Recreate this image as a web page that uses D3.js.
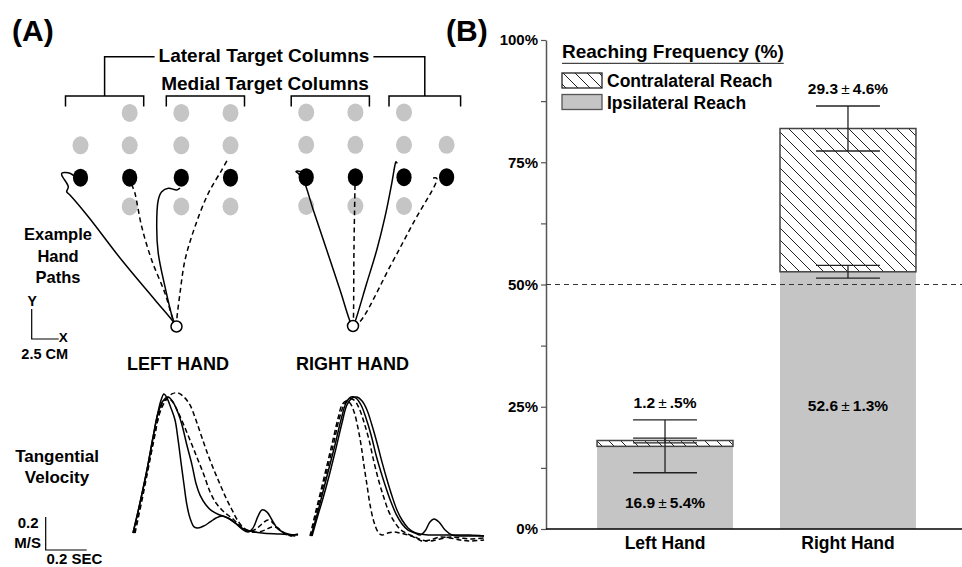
<!DOCTYPE html>
<html><head><meta charset="utf-8">
<script src="https://cdn.jsdelivr.net/npm/d3@7"></script>
<style>
body{margin:0;background:#fff}
svg{display:block}
text{font-family:'Liberation Sans',Arial,Helvetica,sans-serif;font-weight:bold;fill:#000}
</style>
</head><body><svg id="c" width="962" height="567"></svg>
<script>
// ================= Panel B data =================
const hands = ["Left Hand", "Right Hand"];
const ipsiMean = [16.9, 52.6];
const ipsiErr = [5.4, 1.3];
const contraMean = [1.2, 29.3];
const contraErr = [0.5, 4.6];
const ipsiLabels = ["16.9 ± 5.4%", "52.6 ± 1.3%"];
const contraLabels = ["1.2 ± .5%", "29.3 ± 4.6%"];
const yMajorTicks = [0, 25, 50, 75, 100];
const yMinorTicks = [12.5, 37.5, 62.5, 87.5];
const chanceLevel = 50;
const legendTitle = "Reaching Frequency (%)";
const legendItems = ["Contralateral Reach", "Ipsilateral Reach"];

// ================= Panel A data (cm, relative to hand start) =================
const targetColsLeft = [-8.0, -3.9, 0.4, 4.5];
const targetColsRight = [-3.9, 0.2, 4.25, 7.8];
const targetRows = [17.8, 15.1, 12.4, 10.0];
const targetRowActive = [false, false, true, false];
const targetMaskLeft = [[0,1,1,1],[1,1,1,1],[1,1,1,1],[0,1,1,1]];
const targetMaskRight = [[1,1,1,0],[1,1,1,1],[1,1,1,1],[1,1,1,0]];
const bracketGroupsLeft = [{name:"lateral", cols:[0,1]}, {name:"medial", cols:[2,3]}];
const bracketGroupsRight = [{name:"medial", cols:[0,1]}, {name:"lateral", cols:[2,3]}];
const handTitles = ["LEFT HAND", "RIGHT HAND"];
const scaleBarCm = 2.5;

const traceKinds = ["solid", "dashed", "solid", "dashed"];
const handPathsLeft = [
  [[0,0],[-0.27,0.4],[-1.79,2.21],[-4.57,5.54],[-7.35,9.15],[-8.88,10.96],[-9.15,11.23],[-9.02,11.65],[-9.57,12.63],[-9.54,12.79],[-8.88,12.77],[-8.46,12.48]],
  [[0,0],[-0.27,0.54],[-0.96,2.77],[-2.07,5.54],[-2.9,8.32],[-3.46,11.1],[-3.73,11.93],[-3.63,12.29],[-3.29,12.46]],
  [[0,0],[-0.27,0.54],[-0.96,3.32],[-1.52,6.1],[-1.65,8.32],[-1.52,10.54],[-1.23,11.23],[-0.68,11.52],[0.02,11.38],[0.29,11.54]],
  [[0,0],[0.02,0.54],[0.29,2.77],[0.71,5.54],[1.54,8.32],[2.65,11.1],[3.77,13.04],[4.32,14.02]]
];
const handPathsRight = [
  [[0,0],[-0.11,0.08],[-1.08,3.0],[-2.19,6.33],[-3.31,9.67],[-4.14,12.17],[-4.56,12.72],[-4.75,12.88],[-4.28,12.86],[-4.0,12.58]],
  [[0,0],[0.03,0.36],[0.08,6.33],[0.17,11.89]],
  [[0,0],[0.17,0.36],[1.14,3.56],[1.98,6.33],[2.67,9.11],[3.23,11.89],[3.5,13.42],[3.58,13.69],[3.69,13.56]],
  [[0,0],[0.58,0.36],[3.08,4.94],[5.03,8.6],[6.98,12.31],[6.56,12.31]]
];

// tangential velocity traces: [time ms, speed cm/s]
const velKinds = ["solid", "solid", "dashed", "dashed"];
const velLeft = [
  [[0,1.8],[15,9.7],[34,20],[68,40],[98,60],[122,75.1],[137,82.4],[151,86.1],[166,83.6],[185,77.6],[205,70.3],[220,58.2],[234,44.8],[249,30.9],[263,18.8],[278,10.9],[298,5.5],[317,4.8],[346,6.1],[376,8.5],[405,10.9],[434,12.1],[463,10.9],[498,7.9],[532,4.8],[571,3.0],[629,1.8],[717,1.2],[805,0.6]],
  [[0,1.8],[34,20],[68,40],[98,60],[122,74.5],[146,81.8],[171,84.2],[195,81.2],[220,74.5],[239,67.3],[263,55],[288,43],[307,32],[327,24.8],[356,18.8],[385,15.2],[424,12.7],[463,10.9],[498,7.9],[532,4.2],[561,2.4],[585,4.8],[610,12.1],[629,15.8],[654,14.5],[678,9.7],[707,4.2],[741,1.8],[776,0.6],[805,1.2]],
  [[10,1.8],[44,21.8],[73,40],[102,58.2],[132,75.1],[161,82.4],[190,86.1],[220,86.7],[249,84.2],[278,79.4],[307,70.3],[337,59.4],[366,49.1],[395,40],[424,31.5],[454,23],[483,15.8],[512,9.1],[541,4.8],[571,3.0],[600,4.2],[629,7.3],[659,9.7],[688,7.3],[717,3.6],[756,0.6],[805,0]],
  [[5,1.8],[39,21.8],[73,41.2],[102,59.4],[127,73.9],[146,81.2],[171,83.6],[190,81.8],[220,75.1],[254,65.4],[288,55.1],[317,46.1],[346,37],[376,26.7],[405,20],[434,15.8],[463,12.7],[493,9.7],[522,6.1],[551,3.6],[580,2.4],[610,2.4],[644,3.6],[678,5.5],[707,4.8],[741,1.2],[776,0]]
];
const velRight = [
  [[10,0.6],[39,13.3],[68,25.5],[98,39.4],[127,53.9],[156,69.1],[180,80],[205,84.2],[229,84.8],[254,82.4],[278,77],[302,67.9],[327,57],[351,45.5],[376,34.5],[400,24.8],[424,16.4],[449,10.3],[478,5.5],[507,3.0],[537,1.8],[576,1.2],[634,1.2],[707,1.2],[780,1.2],[849,0.6]],
  [[5,0.6],[34,13.3],[63,27.3],[93,41.8],[122,55.8],[151,70.9],[176,81.2],[200,84.8],[224,84.2],[249,80],[273,72.1],[298,61.8],[322,49.7],[346,39.4],[371,29.7],[395,21.2],[420,13.9],[449,7.9],[478,4.2],[512,2.4],[537,1.2],[561,3.6],[585,9.1],[605,10.9],[629,9.1],[659,4.2],[693,1.2],[756,0.6],[849,0.6]],
  [[0,0.6],[24,13.3],[54,28.5],[83,43.6],[112,58.8],[137,72.1],[156,80],[176,82.4],[195,81.2],[215,75.8],[234,66.1],[249,55.8],[263,43.6],[278,31.5],[293,19.4],[312,9.1],[332,3.0],[351,1.2],[380,2.4],[410,3.0],[439,2.4],[478,1.2],[517,-0.6],[546,-2.4],[585,-1.8],[634,0],[683,-0.6],[732,-1.8],[780,-2.4],[849,-1.8]],
  [[5,0.6],[29,13.3],[59,28.5],[88,43],[117,57.6],[141,70.9],[166,80],[190,83.6],[215,83],[239,78.2],[263,69.7],[288,58.8],[312,45.5],[337,33.3],[361,23.6],[385,15.2],[415,8.5],[444,4.2],[478,1.8],[512,0],[546,-1.8],[585,-2.4],[634,-1.2],[683,0],[732,-0.6],[790,-1.2],[849,-0.6]]
];
const velScaleBar = {speed: 20, time: 200}; // 0.2 M/S, 0.2 SEC

// ================= drawing =================
const svg = d3.select("#c");
svg.append("rect").attr("width", 962).attr("height", 567).attr("fill", "#fff");
const GRAY = "#c5c5c5";

const defs = svg.append("defs");
const pat = defs.append("pattern").attr("id", "hatch").attr("patternUnits", "userSpaceOnUse")
  .attr("width", 12).attr("height", 12);
pat.append("rect").attr("width", 12).attr("height", 12).attr("fill", "#fff");
pat.append("path").attr("d", "M-3,-3L15,15M-3,9L3,15M9,-3L15,3").attr("stroke", "#222").attr("stroke-width", 1);

// ---------- Panel labels ----------
svg.append("text").attr("x", 12).attr("y", 41).style("font-size", "30px").text("(A)");
svg.append("text").attr("x", 446).attr("y", 41).style("font-size", "30px").text("(B)");

// ---------- Panel A: hand paths ----------
const cm = d3.scaleLinear().domain([0, 1]).range([0, 12]);
const handOrigins = [[176.5, 326.5], [353, 326]];
const handCols = [targetColsLeft, targetColsRight];
const handMasks = [targetMaskLeft, targetMaskRight];
const handPaths = [handPathsLeft, handPathsRight];
const handBrackets = [bracketGroupsLeft, bracketGroupsRight];
const pathLine = d3.line().x(d => cm(d[0])).y(d => -cm(d[1])).curve(d3.curveCatmullRom.alpha(0.5));

const bracketY = 96, bracketTick = 10.5, topBarY = 56.7;
const lateralCenters = [];

handOrigins.forEach((o, h) => {
  const g = svg.append("g").attr("transform", `translate(${o[0]},${o[1]})`);
  targetRows.forEach((ry, r) => {
    handCols[h].forEach((cx, c) => {
      if (!handMasks[h][r][c]) return;
      g.append("ellipse").attr("cx", cm(cx)).attr("cy", -cm(ry))
        .attr("rx", targetRowActive[r] ? 7.6 : 8).attr("ry", 9)
        .attr("fill", targetRowActive[r] ? "#000" : GRAY);
    });
  });
  handPaths[h].forEach((p, i) => {
    g.append("path").attr("d", pathLine(p)).attr("fill", "none").attr("stroke", "#000")
      .attr("stroke-width", 1.5)
      .attr("stroke-dasharray", traceKinds[i] === "dashed" ? "5,3.5" : null);
  });
  g.append("circle").attr("r", 5.5).attr("fill", "#fff").attr("stroke", "#000").attr("stroke-width", 1.5);
  handBrackets[h].forEach(b => {
    const x1 = o[0] + cm(handCols[h][b.cols[0]]) - 15;
    const x2 = o[0] + cm(handCols[h][b.cols[1]]) + 14;
    svg.append("path").attr("d", `M${x1},${bracketY + bracketTick}V${bracketY}H${x2}V${bracketY + bracketTick}`)
      .attr("fill", "none").attr("stroke", "#000").attr("stroke-width", 1.5);
    if (b.name === "lateral") lateralCenters.push((x1 + x2) / 2);
  });
  svg.append("text").attr("x", o[0] + (h === 0 ? 1.5 : -0.5)).attr("y", 370).attr("text-anchor", "middle")
    .style("font-size", "18px").text(handTitles[h]);
});

const latText = svg.append("text").attr("x", 264).attr("y", 62).attr("text-anchor", "middle")
  .style("font-size", "19px").text("Lateral Target Columns");
svg.append("text").attr("x", 265).attr("y", 90).attr("text-anchor", "middle")
  .style("font-size", "19px").text("Medial Target Columns");
const latBox = latText.node().getBBox();
svg.append("path").attr("d", `M${lateralCenters[0]},${bracketY}V${topBarY}H${latBox.x - 4}`)
  .attr("fill", "none").attr("stroke", "#000").attr("stroke-width", 1.5);
svg.append("path").attr("d", `M${latBox.x + latBox.width + 4},${topBarY}H${lateralCenters[1]}V${bracketY}`)
  .attr("fill", "none").attr("stroke", "#000").attr("stroke-width", 1.5);

["Example", "Hand", "Paths"].forEach((t, i) => {
  svg.append("text").attr("x", 58).attr("y", 240 + i * 21.7).attr("text-anchor", "middle")
    .style("font-size", "16.5px").text(t);
});
const sb = svg.append("g").attr("transform", "translate(31.7,339)");
sb.append("path").attr("d", `M0,${-cm(scaleBarCm)}V0H${cm(scaleBarCm) - 3}`).attr("fill", "none")
  .attr("stroke", "#000").attr("stroke-width", 1.2);
sb.append("text").attr("x", 0.5).attr("y", -33).attr("text-anchor", "middle").style("font-size", "14px").text("Y");
sb.append("text").attr("x", cm(scaleBarCm) - 3).attr("y", 3).style("font-size", "13.5px").text("X");
svg.append("text").attr("x", 44.7).attr("y", 359).attr("text-anchor", "middle").style("font-size", "14.5px").text("2.5 CM");

// ---------- Panel A: velocity ----------
const velT = d3.scaleLinear().domain([0, 1000]).range([0, 205]);
const velV = d3.scaleLinear().domain([0, 100]).range([0, -165]);
const velLine = d3.line().x(d => velT(d[0])).y(d => velV(d[1])).curve(d3.curveCatmullRom.alpha(0.5));
const velOrigins = [[133, 536], [310, 537]];
[velLeft, velRight].forEach((traces, h) => {
  const g = svg.append("g").attr("transform", `translate(${velOrigins[h][0]},${velOrigins[h][1]})`);
  traces.forEach((tr, i) => {
    g.append("path").attr("d", velLine(tr)).attr("fill", "none").attr("stroke", "#000")
      .attr("stroke-width", 1.5)
      .attr("stroke-dasharray", velKinds[i] === "dashed" ? "5,3" : null);
  });
});
["Tangential", "Velocity"].forEach((t, i) => {
  svg.append("text").attr("x", 57).attr("y", 461.7 + i * 21.6).attr("text-anchor", "middle")
    .style("font-size", "17px").text(t);
});
const vsb = svg.append("g").attr("transform", "translate(45.7,550)");
vsb.append("path").attr("d", `M0,${velV(velScaleBar.speed)}V0H${velT(velScaleBar.time)}`).attr("fill", "none")
  .attr("stroke", "#000").attr("stroke-width", 1.2);
svg.append("text").attr("x", 38.5).attr("y", 527.5).attr("text-anchor", "end").style("font-size", "15px").text("0.2");
svg.append("text").attr("x", 41).attr("y", 547.5).attr("text-anchor", "end").style("font-size", "15px").text("M/S");
svg.append("text").attr("x", 46.5).attr("y", 563.5).style("font-size", "15px").text("0.2 SEC");

// ---------- Panel B: stacked bars ----------
const x = d3.scaleBand().domain(hands).range([546, 967]).paddingInner(0.257).paddingOuter(0.279);
const y = d3.scaleLinear().domain([0, 100]).range([529, 40]);
const gB = svg.append("g");

const yAxis = d3.axisLeft(y).tickValues(yMajorTicks.concat(yMinorTicks))
  .tickFormat(d => yMajorTicks.includes(d) ? d + "%" : "").tickSize(5).tickSizeOuter(0).tickPadding(3);
const ya = gB.append("g").attr("transform", "translate(546,0)").call(yAxis);
ya.select(".domain").attr("stroke", "#555").attr("stroke-width", 1.5);
ya.selectAll(".tick line").attr("stroke", "#555").attr("stroke-width", 1.2);
ya.selectAll(".tick text").style("font-size", "15px").style("font-family", null).style("font-weight", "bold").attr("fill", "#000");

hands.forEach((hnd, i) => {
  const bx = x(hnd), bw = x.bandwidth();
  gB.append("rect").attr("x", bx).attr("width", bw)
    .attr("y", y(ipsiMean[i])).attr("height", y(0) - y(ipsiMean[i])).attr("fill", GRAY);
  const top = ipsiMean[i] + contraMean[i];
  gB.append("rect").attr("x", bx).attr("width", bw)
    .attr("y", y(top)).attr("height", y(ipsiMean[i]) - y(top))
    .attr("fill", "url(#hatch)").attr("stroke", "#444").attr("stroke-width", 1.5);
});

gB.append("line").attr("x1", 546).attr("x2", 962).attr("y1", y(chanceLevel)).attr("y2", y(chanceLevel))
  .attr("stroke", "#333").attr("stroke-width", 1.2).attr("stroke-dasharray", "5,4");

function errBar(cx, v, e, half) {
  const g = gB.append("g").attr("stroke", "#222").attr("stroke-width", 1.3);
  g.append("line").attr("x1", cx).attr("x2", cx).attr("y1", y(v + e)).attr("y2", y(v - e));
  [v + e, v - e].forEach(val => g.append("line").attr("x1", cx - half).attr("x2", cx + half)
    .attr("y1", y(val)).attr("y2", y(val)));
}
hands.forEach((hnd, i) => {
  const cx = x(hnd) + x.bandwidth() / 2, half = x.bandwidth() * 0.235;
  errBar(cx, ipsiMean[i], ipsiErr[i], half);
  errBar(cx, ipsiMean[i] + contraMean[i], contraErr[i], half);
});

function valLabel(cx, cy, s) {
  const parts = s.split("±");
  const t = gB.append("text").attr("x", cx).attr("y", cy).attr("text-anchor", "middle")
    .attr("dominant-baseline", "central").style("font-size", "15.5px");
  t.append("tspan").text(parts[0].trim() + "\u2009");
  t.append("tspan").style("font-weight", "normal").text("±");
  t.append("tspan").text("\u2009" + parts[1].trim());
}
hands.forEach((hnd, i) => {
  const cx = x(hnd) + x.bandwidth() / 2;
  const top = ipsiMean[i] + contraMean[i];
  valLabel(cx, y(top + Math.max(contraErr[i], ipsiMean[i] + ipsiErr[i] - top)) - 18, contraLabels[i]);
  valLabel(cx, (y(ipsiMean[i] - ipsiErr[i]) + y(0)) / 2 + 1, ipsiLabels[i]);
});

gB.append("line").attr("x1", 546).attr("x2", 962).attr("y1", y(0)).attr("y2", y(0))
  .attr("stroke", "#000").attr("stroke-width", 1.5);
const xa = gB.append("g").attr("transform", `translate(0,${y(0)})`)
  .call(d3.axisBottom(x).tickSize(0).tickPadding(8));
xa.select(".domain").remove();
xa.selectAll(".tick text").style("font-size", "17.5px").style("font-family", null).style("font-weight", "bold").attr("fill", "#000");

const lg = svg.append("g").attr("transform", "translate(562,0)");
const lt = lg.append("text").attr("x", 0).attr("y", 58).style("font-size", "19px").text(legendTitle);
const ltw = lt.node().getComputedTextLength();
lg.append("line").attr("x1", 0).attr("x2", ltw).attr("y1", 63.3).attr("y2", 63.3)
  .attr("stroke", "#444").attr("stroke-width", 1.3);
legendItems.forEach((item, i) => {
  const yy = 73 + i * 21.5;
  lg.append("rect").attr("x", 0).attr("y", yy).attr("width", 40).attr("height", 15)
    .attr("fill", i === 0 ? "url(#hatch)" : GRAY)
    .attr("stroke", i === 0 ? "#222" : "#555").attr("stroke-width", 1.3);
  lg.append("text").attr("x", 45).attr("y", yy + 14).style("font-size", "17.5px").text(item);
});
</script>
</body></html>
